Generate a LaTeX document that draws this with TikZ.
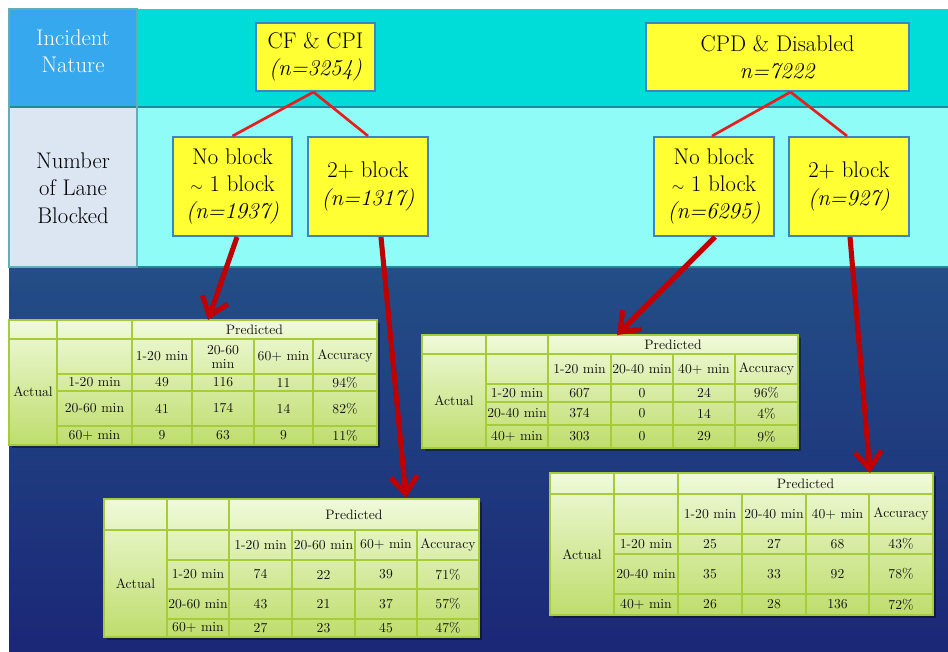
\documentclass[tikz,border=0pt]{standalone}
\usetikzlibrary{arrows.meta,calc}
\definecolor{hdrblue}{HTML}{36A9EE}
\definecolor{hdrgray}{HTML}{DCE6F2}
\definecolor{tealone}{HTML}{00DDD8}
\definecolor{cyantwo}{HTML}{90FCF8}
\definecolor{lineteal}{HTML}{1E8C96}
\definecolor{bluetop}{HTML}{234E86}
\definecolor{bluebot}{HTML}{1B2777}
\definecolor{boxyellow}{HTML}{FFFF33}
\definecolor{boxborder}{HTML}{3A86C4}
\definecolor{thinred}{HTML}{E81E1E}
\definecolor{thickred}{HTML}{C00000}
\definecolor{tabtop}{HTML}{F0FADA}
\definecolor{tabbot}{HTML}{BEDD6C}
\definecolor{tabline}{HTML}{A6CC3A}
\def\setX#1,#2,#3,#4,#5,#6,#7;{\def\tXa{#1}\def\tXb{#2}\def\tXc{#3}\def\tXd{#4}\def\tXe{#5}\def\tXf{#6}\def\tXg{#7}}
\def\setY#1,#2,#3,#4,#5,#6;{\def\tYa{#1}\def\tYb{#2}\def\tYc{#3}\def\tYd{#4}\def\tYe{#5}\def\tYf{#6}}
\newcommand\drawtab{%
  \fill[black,opacity=.4] (\tXa+3,\tYa+3) rectangle (\tXg+3,\tYf+3);
  \shade[top color=tabtop,bottom color=tabbot] (\tXa,\tYa) rectangle (\tXg,\tYf);
  \draw[tabgrid] (\tXa,\tYb) -- (\tXg,\tYb);
  \draw[tabgrid] (\tXb,\tYc) -- (\tXg,\tYc) (\tXb,\tYd) -- (\tXg,\tYd) (\tXb,\tYe) -- (\tXg,\tYe);
  \draw[tabgrid] (\tXb,\tYa) -- (\tXb,\tYf) (\tXc,\tYa) -- (\tXc,\tYf);
  \draw[tabgrid] (\tXd,\tYb) -- (\tXd,\tYf) (\tXe,\tYb) -- (\tXe,\tYf) (\tXf,\tYb) -- (\tXf,\tYf);
  \draw[tabgrid] (\tXa,\tYa) rectangle (\tXg,\tYf);
}
\newcommand\cellnode[6]{\node[cell] (#1) at ({(#2+#3)/2},{(#4+#5)/2}) {#6};}
\newcommand\headrow[5]{%
  \cellnode{#1-pred}{\tXc}{\tXg}{\tYa}{\tYb}{Predicted}
  \cellnode{#1-act}{\tXa}{\tXb}{\tYb}{\tYf}{Actual}
  \cellnode{#1-ha}{\tXc}{\tXd}{\tYb}{\tYc}{#2}
  \cellnode{#1-hb}{\tXd}{\tXe}{\tYb}{\tYc}{#3}
  \cellnode{#1-hc}{\tXe}{\tXf}{\tYb}{\tYc}{#4}
  \cellnode{#1-hd}{\tXf}{\tXg}{\tYb}{\tYc}{#5}
}
\newcommand\datarow[8]{%
  \cellnode{#1-l}{\tXb}{\tXc}{#2}{#3}{#4}
  \cellnode{#1-a}{\tXc}{\tXd}{#2}{#3}{#5}
  \cellnode{#1-b}{\tXd}{\tXe}{#2}{#3}{#6}
  \cellnode{#1-c}{\tXe}{\tXf}{#2}{#3}{#7}
  \cellnode{#1-d}{\tXf}{\tXg}{#2}{#3}{#8}
}
\newcommand\smalltilde{{\fontsize{13}{13}\selectfont$\sim$}}
\begin{document}
\begin{tikzpicture}[x=0.75pt,y=-0.75pt,
  tabgrid/.style={draw=tabline,line width=1.1pt},
  cell/.style={font=\fontsize{10.25}{10.5}\selectfont,text=black!92,inner sep=0pt,align=center},
  ybox/.style={draw=boxborder,line width=1.5pt,fill=boxyellow,align=center,inner sep=0pt,
    font=\fontsize{17}{20.5}\selectfont},
  hdrtext/.style={align=center,font=\fontsize{17}{20.5}\selectfont},
  thinline/.style={thinred,line width=2pt},
  thickarrow/.style={thickred,line width=3.8pt,-{Straight Barb[length=13pt,width=20pt]}}]
\useasboundingbox (0,0) rectangle (948,652);
\fill[white] (0,0) rectangle (948,652);
% background bands
\fill[tealone] (137,9) rectangle (948,107);
\fill[hdrblue] (9,9) rectangle (137,107);
\fill[cyantwo] (137,107) rectangle (948,267);
\fill[hdrgray] (9,107) rectangle (137,267);
\shade[top color=bluetop,bottom color=bluebot] (9,267) rectangle (948,652);
\draw[lineteal,line width=1.2pt] (9,107) -- (948,107);
\draw[lineteal,line width=1.2pt] (137,9) -- (137,267);
\draw[lineteal,line width=1.5pt] (9,267) -- (948,267);
\draw[lineteal!70,line width=0.8pt] (9,9) rectangle (137,267);
% row headers
\node[hdrtext,text=white] (inc) at (73,51) {Incident\\Nature};
\node[hdrtext,text=black] (nlb) at (73,188) {Number\\of Lane\\Blocked};
% tree boxes
\node[ybox,minimum width=89.25pt,minimum height=51pt] (cf) at (315.5,57) {CF \& CPI\\\textit{(n=3254)}};
\node[ybox,minimum width=197.25pt,minimum height=51pt] (cpd) at (777.5,57) {CPD \& Disabled\\\textit{n=7222}};
\node[ybox,minimum width=89.25pt,minimum height=74.25pt] (boxnbl) at (232.5,186.5) {No block\\\smalltilde\ 1 block\\\textit{(n=1937)}};
\node[ybox,minimum width=90pt,minimum height=74.25pt] (boxtbl) at (368,186.5) {2+ block\\\textit{(n=1317)}};
\node[ybox,minimum width=90pt,minimum height=74.25pt] (boxnbr) at (714,186.5) {No block\\\smalltilde\ 1 block\\\textit{(n=6295)}};
\node[ybox,minimum width=90pt,minimum height=74.25pt] (boxtbr) at (849,186.5) {2+ block\\\textit{(n=927)}};
% thin connectors
\draw[thinline] ([xshift=-1.5pt]cf.south) -- (boxnbl.north);
\draw[thinline] ([xshift=-1.5pt]cf.south) -- (boxtbl.north);
\draw[thinline] ([xshift=9.75pt]cpd.south) -- ([xshift=-1.5pt]boxnbr.north);
\draw[thinline] ([xshift=9.75pt]cpd.south) -- ([xshift=-1.5pt]boxtbr.north);
% tables
\setX 9,57,132,192,254,313,377;\setY 320,339,374,391,426,445;
\drawtab
\headrow{ta}{1-20 min}{20-60\\min}{60+ min}{Accuracy}
\datarow{ta1}{\tYc}{\tYd}{1-20 min}{49}{116}{11}{94\%}
\datarow{ta2}{\tYd}{\tYe}{20-60 min}{41}{174}{14}{82\%}
\datarow{ta3}{\tYe}{\tYf}{60+ min}{9}{63}{9}{11\%}
\coordinate (tatop) at (208,320);
\setX 422,486,548,611,673,735,798;\setY 335,354,384,402,425,448;
\drawtab
\headrow{tb}{1-20 min}{20-40 min}{40+ min}{Accuracy}
\datarow{tb1}{\tYc}{\tYd}{1-20 min}{607}{0}{24}{96\%}
\datarow{tb2}{\tYd}{\tYe}{20-40 min}{374}{0}{14}{4\%}
\datarow{tb3}{\tYe}{\tYf}{40+ min}{303}{0}{29}{9\%}
\coordinate (tbtop) at (617,335);
\setX 104,167,229,292,355,417,479;\setY 499,530,560,589,619,637;
\drawtab
\headrow{tc}{1-20 min}{20-60 min}{60+ min}{Accuracy}
\datarow{tc1}{\tYc}{\tYd}{1-20 min}{74}{22}{39}{71\%}
\datarow{tc2}{\tYd}{\tYe}{20-60 min}{43}{21}{37}{57\%}
\datarow{tc3}{\tYe}{\tYf}{60+ min}{27}{23}{45}{47\%}
\coordinate (tctop) at (406,498);
\setX 550,614,678,742,806,869,933;\setY 473,494,534,554,594,615;
\drawtab
\headrow{td}{1-20 min}{20-40 min}{40+ min}{Accuracy}
\datarow{td1}{\tYc}{\tYd}{1-20 min}{25}{27}{68}{43\%}
\datarow{td2}{\tYd}{\tYe}{20-40 min}{35}{33}{92}{78\%}
\datarow{td3}{\tYe}{\tYf}{40+ min}{26}{28}{136}{72\%}
\coordinate (tdtop) at (870,473);
% thick arrows
\draw[thickarrow] ([xshift=3.4pt]boxnbl.south) -- (tatop);
\draw[thickarrow] ([xshift=9.75pt]boxtbl.south) -- (tctop);
\draw[thickarrow] ([xshift=0.75pt]boxnbr.south) -- (tbtop);
\draw[thickarrow] ([xshift=0.75pt]boxtbr.south) -- (tdtop);
\end{tikzpicture}
\end{document}
